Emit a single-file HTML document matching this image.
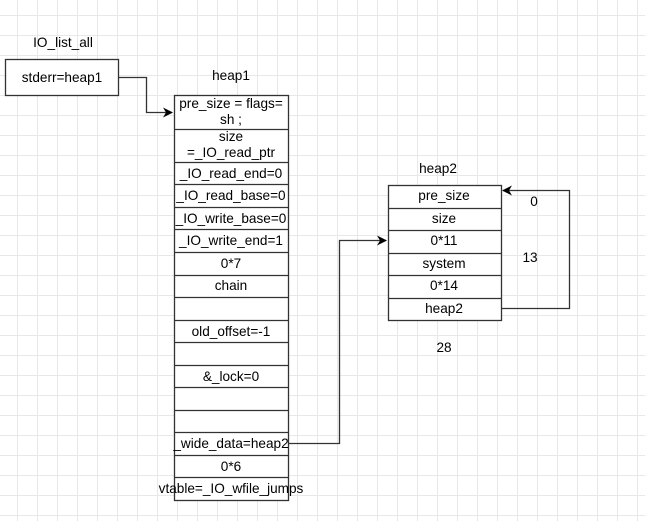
<!DOCTYPE html>
<html><head><style>
body{margin:0;width:645px;height:521px;overflow:hidden;background:#fff;
background-image:linear-gradient(#e8e8e8 1px,transparent 1px),linear-gradient(90deg,#e8e8e8 1px,transparent 1px);
background-size:20px 20px;background-position:-3px -5px;font-family:"Liberation Sans",Arial,sans-serif;}
</style></head><body>
<svg width="645" height="521" style="position:absolute;left:0;top:0" font-family="Liberation Sans, Arial, sans-serif" font-size="13.6" fill="#000">
<defs><marker id="a" markerWidth="10" markerHeight="10" refX="9" refY="5" orient="auto" markerUnits="userSpaceOnUse"><path d="M0,0 L10,5 L0,10 L3,5z" fill="#000"/></marker></defs>
<g fill="#fff" stroke="#333" stroke-width="1.3">
<rect x="5.5" y="59.5" width="113" height="36"/>
<rect x="174.5" y="95.5" width="114" height="405"/>
<rect x="388.5" y="185.5" width="113" height="135"/>
</g>
<g stroke="#333" stroke-width="1.3">
<path d="M174 129.5H288M174 162.5H288M174 184.5H288M174 207.5H288M174 229.5H288M174 252.5H288M174 275.5H288M174 297.5H288M174 320.5H288M174 342.5H288M174 365.5H288M174 387.5H288M174 410.5H288M174 432.5H288M174 455.5H288M174 477.5H288"/>
<path d="M388 208.5H501M388 230.5H501M388 253.5H501M388 275.5H501M388 298.5H501"/>
</g>
<g fill="none" stroke="#333" stroke-width="1.3">
<path d="M118 77.5H146.5V112.5H172" marker-end="url(#a)"/>
<path d="M288 443.5H339.5V240.5H386" marker-end="url(#a)"/>
<path d="M501 308.5H569.5V190.5H503" marker-end="url(#a)"/>
</g>
<g text-anchor="middle">
<text x="63" y="47">IO_list_all</text>
<text x="62" y="82">stderr=heap1</text>
<text x="231" y="80">heap1</text>
<text x="231" y="108">pre_size = flags=</text>
<text x="231" y="124">sh ;</text>
<text x="231" y="141">size</text>
<text x="231" y="157">=_IO_read_ptr</text>
<text x="231" y="178">_IO_read_end=0</text>
<text x="231" y="200">_IO_read_base=0</text>
<text x="231" y="223">_IO_write_base=0</text>
<text x="231" y="245">_IO_write_end=1</text>
<text x="231" y="268">0*7</text>
<text x="231" y="290">chain</text>
<text x="231" y="336">old_offset=-1</text>
<text x="231" y="381">&amp;_lock=0</text>
<text x="231" y="448">_wide_data=heap2</text>
<text x="231" y="471">0*6</text>
<text x="231" y="493">vtable=_IO_wfile_jumps</text>
<text x="438" y="173">heap2</text>
<text x="444" y="200">pre_size</text>
<text x="444" y="223">size</text>
<text x="444" y="245">0*11</text>
<text x="444" y="268">system</text>
<text x="444" y="290">0*14</text>
<text x="444" y="313">heap2</text>
<text x="534" y="206">0</text>
<text x="530" y="262">13</text>
<text x="444" y="352">28</text>
</g>
</svg>
</body></html>
